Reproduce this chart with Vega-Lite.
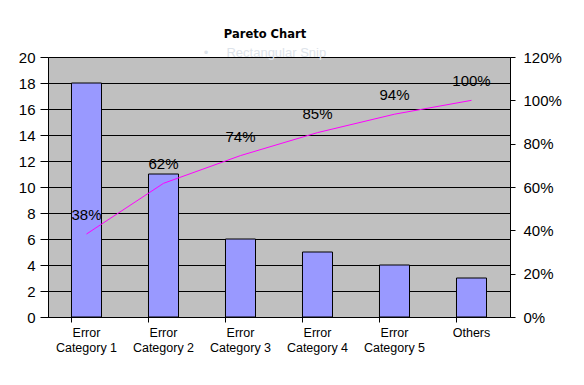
{
  "$schema": "https://vega.github.io/schema/vega-lite/v6.json",
  "width": 462,
  "height": 260,
  "autosize": {"type": "none"},
  "padding": {"left": 48, "top": 57, "right": 74, "bottom": 68},
  "background": "white",
  "title": {
    "text": "Pareto Chart",
    "subtitle": "•\u00a0\u00a0\u00a0\u00a0\u00a0Rectangular Snip",
    "font": "DejaVu Sans",
    "fontSize": 11.5,
    "fontWeight": "bold",
    "color": "black",
    "subtitleFont": "Liberation Sans",
    "subtitleFontSize": 13,
    "subtitleColor": "#dde3ea",
    "subtitlePadding": 7,
    "anchor": "middle",
    "frame": "group",
    "dx": -14,
    "offset": -10
  },
  "config": {
    "view": {"fill": "#C0C0C0", "stroke": "#808080"},
    "axis": {
      "labelFont": "Liberation Sans",
      "labelColor": "black",
      "domainColor": "black",
      "tickColor": "black",
      "titleFont": "Liberation Sans"
    }
  },
  "data": {
    "values": [
      {"category": "Error Category 1", "count": 18, "cum": 0.383, "label": "38%"},
      {"category": "Error Category 2", "count": 11, "cum": 0.617, "label": "62%"},
      {"category": "Error Category 3", "count": 6, "cum": 0.745, "label": "74%"},
      {"category": "Error Category 4", "count": 5, "cum": 0.851, "label": "85%"},
      {"category": "Error Category 5", "count": 4, "cum": 0.936, "label": "94%"},
      {"category": "Others", "count": 3, "cum": 1.0, "label": "100%"}
    ]
  },
  "encoding": {
    "x": {
      "field": "category",
      "type": "nominal",
      "sort": null,
      "scale": {"paddingInner": 0.61, "paddingOuter": 0.305},
      "axis": {
        "title": null,
        "labelAngle": 0,
        "labelFontSize": 12.5,
        "labelLineHeight": 15,
        "labelPadding": 4,
        "labelBaseline": "top",
        "bandPosition": 0,
        "tickSize": 5,
        "labelExpr": "indexof(datum.label, 'Error ') == 0 ? ['Error', substring(datum.label, 6)] : datum.label",
        "domainColor": "black"
      }
    }
  },
  "layer": [
    {
      "mark": {"type": "bar", "fill": "#9999FF", "stroke": "black", "strokeWidth": 1},
      "encoding": {
        "y": {
          "field": "count",
          "type": "quantitative",
          "scale": {"domain": [0, 20], "nice": false},
          "axis": {
            "title": null,
            "values": [0, 2, 4, 6, 8, 10, 12, 14, 16, 18, 20],
            "grid": true,
            "gridColor": "black",
            "gridWidth": 1,
            "gridOpacity": 1,
            "labelFontSize": 15,
            "tickSize": 8,
            "labelPadding": 5
          }
        }
      }
    },
    {
      "encoding": {
        "y": {
          "field": "cum",
          "type": "quantitative",
          "scale": {"domain": [0, 1.2], "nice": false},
          "axis": {
            "title": null,
            "orient": "right",
            "values": [0, 0.2, 0.4, 0.6, 0.8, 1.0, 1.2],
            "format": ".0%",
            "grid": false,
            "labelFontSize": 15,
            "tickSize": 5,
            "labelPadding": 8
          }
        }
      },
      "layer": [
        {"mark": {"type": "line", "color": "#FF00FF", "strokeWidth": 1}},
        {
          "mark": {"type": "text", "font": "Liberation Sans", "fontSize": 15, "color": "black", "dy": -19},
          "encoding": {"text": {"field": "label"}}
        }
      ]
    }
  ],
  "resolve": {"scale": {"y": "independent"}, "axis": {"y": "independent"}}
}
